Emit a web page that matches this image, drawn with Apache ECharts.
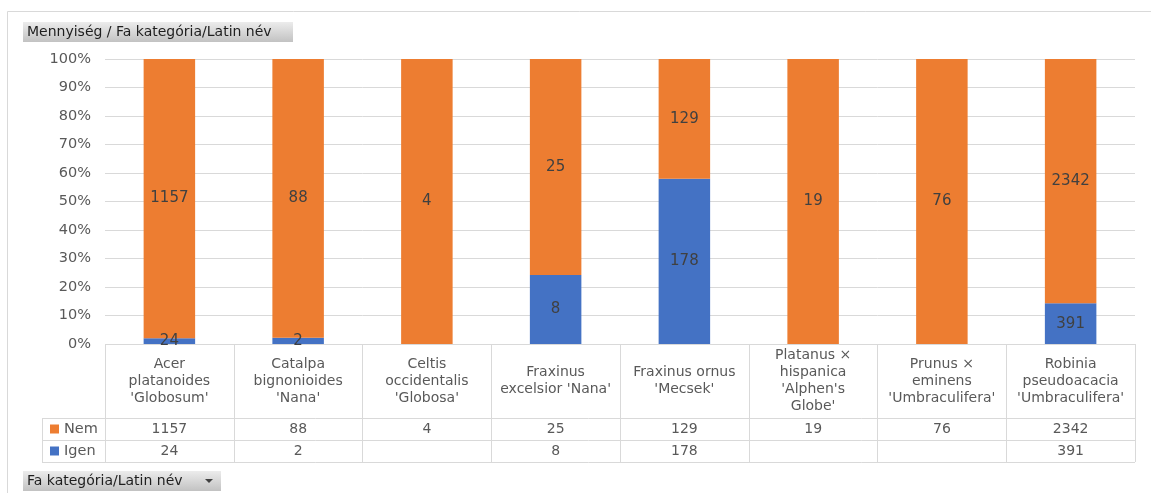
<!DOCTYPE html>
<html>
<head>
<meta charset="utf-8">
<script src="https://cdn.jsdelivr.net/npm/echarts@6/dist/echarts.min.js"></script>
<style>
  html, body { margin: 0; padding: 0; background: #fff; }
  #chart { width: 1151px; height: 493px; }
</style>
</head>
<body>
<div id="chart"></div>
<script>
// Fa kategória / Latin név
const categories = [
  "Acer\nplatanoides\n'Globosum'",
  "Catalpa\nbignonioides\n'Nana'",
  "Celtis\noccidentalis\n'Globosa'",
  "Fraxinus\nexcelsior 'Nana'",
  "Fraxinus ornus\n'Mecsek'",
  "Platanus ×\nhispanica\n'Alphen's\nGlobe'",
  "Prunus ×\neminens\n'Umbraculifera'",
  "Robinia\npseudoacacia\n'Umbraculifera'"
];
// Mennyiség
const nem  = [1157, 88, 4, 25, 129, 19, 76, 2342];
const igen = [24, 2, null, 8, 178, null, null, 391];
const yTicks = [0, 10, 20, 30, 40, 50, 60, 70, 80, 90, 100];

const COLORS = { nem: '#ED7D31', igen: '#4472C4' };
const FONT = 'DejaVu Sans';
const TEXT = '#595959';
const LINE = '#d9d9d9';

// Layout of the plot and the data table beneath it
const W = 1151, H = 493;
const GRID = { left: 105, right: 16, top: 59, bottom: 149 };
const AXIS_Y = H - GRID.bottom;          // 0% line
const HEAD_H = 74;                       // header row (category names)
const ROW_H = 22;                        // Nem / Igen rows
const LEGEND_X = 42;

// share of each part within its category, in percent
const totals = nem.map((v, i) => (v || 0) + (igen[i] || 0));
const pct = arr => arr.map((v, i) => v == null ? null : v / totals[i] * 100);

const chart = echarts.init(document.getElementById('chart'), null, { renderer: 'canvas' });

const plotRight = W - GRID.right;
const rowTop1 = AXIS_Y + HEAD_H;
const rowTop2 = rowTop1 + ROW_H;
const rowBottom = rowTop2 + ROW_H;

const hLine = (x1, x2, y) => ({
  type: 'line', silent: true, z: 5,
  shape: { x1: x1, y1: y + 0.5, x2: x2, y2: y + 0.5 },
  style: { stroke: LINE, lineWidth: 1 }
});

function button(x, y, w, label, withArrow) {
  const children = [
    {
      type: 'rect', shape: { x: 0, y: 0, width: w, height: 20 },
      style: {
        fill: new echarts.graphic.LinearGradient(0, 0, 0, 1, [
          { offset: 0, color: '#ececec' },
          { offset: 1, color: '#c2c2c2' }
        ])
      }
    },
    {
      type: 'text', x: 4, y: 10,
      style: { text: label, font: '14px "' + FONT + '"', fill: '#1e1e1e', verticalAlign: 'middle' }
    }
  ];
  if (withArrow) {
    children.push({
      type: 'polygon',
      shape: { points: [[w - 16, 8], [w - 8, 8], [w - 12, 12]] },
      style: { fill: '#404040' }
    });
  }
  return { type: 'group', x: x, y: y, silent: true, children: children };
}

const tableLabel = { color: TEXT, fontSize: 14, fontFamily: FONT };

const option = {
  backgroundColor: '#ffffff',
  animation: false,
  textStyle: { fontFamily: FONT },
  grid: { left: GRID.left, right: GRID.right, top: GRID.top, bottom: GRID.bottom, containLabel: false },
  legend: {
    data: ['Nem', 'Igen'],
    orient: 'vertical',
    left: LEGEND_X + 8, top: rowTop1 + 3,
    padding: 0,
    itemWidth: 9, itemHeight: 9, itemGap: 6,
    icon: 'rect',
    textStyle: { color: TEXT, fontSize: 14.5, fontFamily: FONT, lineHeight: 16 },
    selectedMode: false
  },
  xAxis: [
    {
      type: 'category', data: categories, position: 'bottom',
      axisLine: { show: false },
      axisTick: { show: true, interval: 0, length: HEAD_H + 2 * ROW_H, lineStyle: { color: LINE } },
      axisLabel: Object.assign({
        interval: 0, margin: HEAD_H / 2, verticalAlign: 'middle', lineHeight: 17, align: 'center'
      }, tableLabel)
    },
    {
      type: 'category', data: categories, position: 'bottom',
      axisLine: { show: false }, axisTick: { show: false },
      axisLabel: Object.assign({
        interval: 0, margin: HEAD_H + ROW_H / 2, verticalAlign: 'middle',
        formatter: (v, i) => nem[i] == null ? '' : String(nem[i])
      }, tableLabel)
    },
    {
      type: 'category', data: categories, position: 'bottom',
      axisLine: { show: false }, axisTick: { show: false },
      axisLabel: Object.assign({
        interval: 0, margin: HEAD_H + ROW_H * 1.5, verticalAlign: 'middle',
        formatter: (v, i) => igen[i] == null ? '' : String(igen[i])
      }, tableLabel)
    }
  ],
  yAxis: {
    type: 'value', min: yTicks[0], max: yTicks[yTicks.length - 1], interval: 10,
    axisLine: { show: false }, axisTick: { show: false },
    axisLabel: { color: TEXT, fontSize: 14.5, fontFamily: FONT, margin: 14, formatter: '{value}%' },
    splitLine: { lineStyle: { color: LINE, width: 1 } }
  },
  series: [
    {
      name: 'Igen', type: 'bar', stack: 'total', barWidth: '40%',
      data: pct(igen),
      itemStyle: { color: COLORS.igen },
      label: {
        show: true, position: 'inside', color: '#404040', fontSize: 15, fontFamily: FONT,
        formatter: p => igen[p.dataIndex] == null ? '' : String(igen[p.dataIndex])
      }
    },
    {
      name: 'Nem', type: 'bar', stack: 'total', barWidth: '40%',
      data: pct(nem),
      itemStyle: { color: COLORS.nem },
      label: {
        show: true, position: 'inside', color: '#404040', fontSize: 15, fontFamily: FONT,
        formatter: p => nem[p.dataIndex] == null ? '' : String(nem[p.dataIndex])
      }
    }
  ],
  graphic: [
    // outer frame
    {
      type: 'rect', silent: true, z: -10,
      shape: { x: 7.5, y: 11.5, width: W + 20, height: H + 20 },
      style: { fill: null, stroke: LINE, lineWidth: 1 }
    },
    // table rows
    hLine(LEGEND_X, plotRight, rowTop1),
    hLine(LEGEND_X, plotRight, rowTop2),
    hLine(LEGEND_X, plotRight, rowBottom),
    {
      type: 'line', silent: true, z: 5,
      shape: { x1: LEGEND_X + 0.5, y1: rowTop1, x2: LEGEND_X + 0.5, y2: rowBottom },
      style: { stroke: LINE, lineWidth: 1 }
    },
    button(23, 22, 270, 'Mennyiség / Fa kategória/Latin név', false),
    button(23, 471, 198, 'Fa kategória/Latin név', true)
  ]
};

chart.setOption(option);
</script>
</body>
</html>
